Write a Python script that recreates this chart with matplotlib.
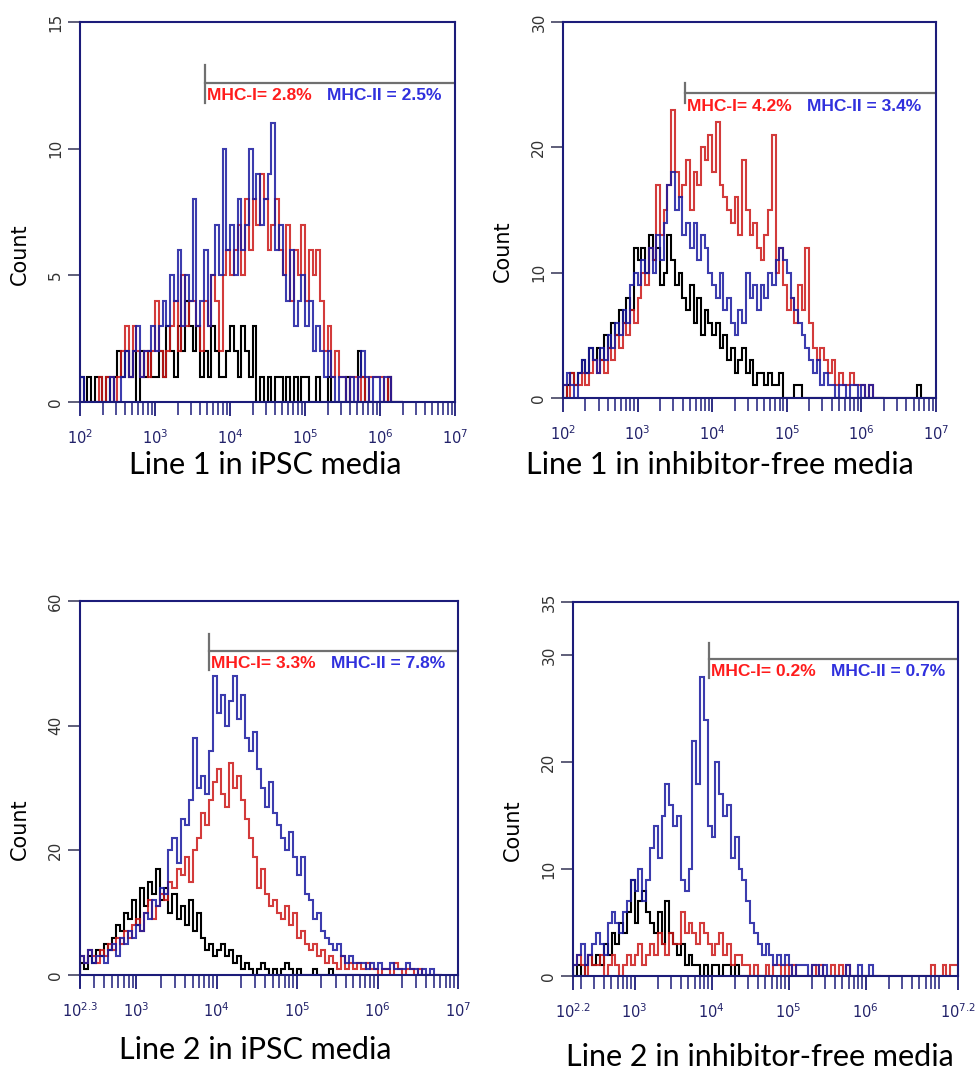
import numpy as np
import matplotlib.pyplot as plt
from matplotlib.ticker import FixedLocator, NullFormatter

BIN = 0.05  # channel width, decades

# ---- Line 1, iPSC media (log10 start 2.0) ----
p1_start = 2.0
p1_ctrl = [1, 0, 1, 0, 1, 1, 0, 1, 0, 1,
           2, 1, 2, 1, 2, 0, 2, 1, 2, 1,
           1, 2, 1, 3, 2, 1, 3, 2, 4, 3,
           2, 3, 1, 2, 1, 3, 2, 1, 1, 2,
           3, 2, 1, 3, 2, 1, 3, 0, 1, 0,
           1, 0, 1, 1, 0, 1, 0, 1, 0, 1,
           1, 0, 0, 1, 0, 0, 1, 0, 0, 0,
           0, 1, 0, 0, 2, 1, 0, 0, 0, 0,
           0, 0, 1, 0, 0, 0]
p1_mhc1 = [0, 0, 0, 0, 0, 1, 0, 1, 1, 0,
           1, 2, 3, 1, 3, 2, 1, 2, 1, 2,
           4, 2, 1, 2, 3, 4, 2, 5, 3, 4,
           4, 3, 2, 4, 3, 5, 4, 2, 5, 6,
           5, 6, 7, 5, 8, 6, 8, 7, 9, 8,
           6, 7, 8, 6, 5, 7, 4, 6, 5, 7,
           4, 6, 5, 6, 4, 2, 3, 1, 2, 1,
           1, 0, 1, 1, 0, 1, 0, 1, 1, 1,
           1, 0, 1, 0, 0, 0]
p1_mhc2 = [1, 0, 0, 0, 0, 0, 0, 0, 1, 0,
           0, 1, 2, 1, 2, 3, 1, 2, 2, 3,
           2, 3, 4, 3, 5, 4, 6, 3, 5, 4,
           8, 3, 4, 6, 3, 5, 7, 5, 10, 6,
           7, 5, 8, 6, 7, 10, 8, 9, 7, 8,
           9, 11, 6, 7, 5, 4, 6, 3, 4, 5,
           3, 4, 2, 3, 2, 1, 2, 1, 0, 1,
           1, 0, 1, 0, 1, 2, 1, 0, 1, 1,
           0, 1, 1, 0, 0, 0]

# ---- Line 1, inhibitor-free media (log10 start 2.0) ----
p2_start = 2.0
p2_ctrl = [0, 1, 2, 1, 2, 3, 2, 4, 3, 4,
           3, 5, 4, 6, 5, 7, 6, 8, 7, 12,
           11, 12, 10, 13, 11, 12, 9, 10, 13, 11,
           9, 10, 8, 7, 9, 6, 8, 5, 7, 6,
           5, 6, 4, 5, 3, 4, 2, 3, 4, 2,
           3, 1, 2, 2, 1, 2, 1, 1, 2, 0,
           0, 0, 1, 1, 0, 0, 0, 0, 0, 0,
           0, 0, 0, 0, 0, 0, 0, 0, 0, 0,
           0, 0, 0, 0, 0, 0, 0, 0, 0, 0,
           0, 0, 0, 0, 0, 1, 0, 0, 0, 0]
p2_mhc1 = [1, 0, 2, 1, 1, 2, 1, 2, 3, 2,
           3, 2, 4, 3, 5, 4, 6, 5, 7, 6,
           8, 10, 9, 12, 11, 17, 13, 15, 17, 23,
           18, 16, 17, 19, 15, 18, 17, 20, 19, 21,
           18, 22, 17, 16, 15, 14, 16, 13, 19, 15,
           13, 14, 12, 11, 13, 15, 21, 10, 12, 9,
           7, 8, 6, 9, 7, 12, 6, 4, 3, 4,
           3, 2, 3, 1, 2, 1, 1, 2, 1, 1,
           1, 0, 1, 0, 0, 0]
p2_mhc2 = [1, 2, 1, 0, 2, 3, 2, 4, 3, 2,
           4, 3, 5, 4, 6, 5, 7, 6, 9, 10,
           9, 11, 10, 12, 10, 13, 11, 14, 17, 18,
           15, 16, 13, 14, 12, 14, 11, 13, 12, 10,
           9, 8, 10, 7, 8, 6, 5, 7, 6, 10,
           8, 9, 7, 9, 8, 10, 9, 11, 12, 11,
           10, 8, 7, 6, 5, 4, 3, 2, 3, 1,
           2, 1, 1, 0, 1, 1, 0, 1, 1, 0,
           1, 0, 1, 0, 0, 0]

# ---- Line 2, iPSC media (log10 start 2.3) ----
p3_start = 2.3
p3_ctrl = [2, 1, 3, 2, 4, 3, 5, 4, 6, 8,
           7, 10, 9, 12, 8, 14, 11, 15, 13, 17,
           12, 14, 10, 13, 9, 11, 8, 12, 7, 10,
           6, 4, 5, 3, 4, 5, 3, 4, 2, 3,
           1, 2, 1, 0, 1, 2, 1, 0, 1, 0,
           1, 2, 1, 0, 1, 0, 0, 0, 1, 0,
           0, 0, 1, 0, 0, 0, 0, 0, 0, 0]
p3_mhc1 = [3, 2, 4, 3, 2, 4, 3, 5, 4, 6,
           5, 7, 6, 8, 9, 7, 10, 12, 9, 11,
           13, 12, 15, 14, 17, 16, 19, 15, 20, 22,
           26, 24, 28, 31, 33, 29, 27, 34, 30, 32,
           28, 25, 22, 19, 14, 17, 13, 11, 12, 10,
           9, 11, 8, 10, 6, 7, 5, 4, 5, 3,
           4, 2, 3, 2, 1, 3, 1, 2, 1, 2,
           1, 2, 1, 1, 0, 1, 1, 0, 2, 1,
           0, 1, 1, 0, 1, 0, 0, 0, 0, 0]
p3_mhc2 = [3, 2, 4, 2, 3, 3, 2, 4, 5, 3,
           6, 5, 7, 6, 8, 7, 10, 9, 12, 11,
           14, 13, 20, 22, 18, 25, 24, 28, 38, 30,
           32, 29, 36, 48, 42, 45, 40, 44, 48, 41,
           45, 38, 36, 39, 33, 30, 27, 31, 26, 24,
           22, 20, 23, 19, 16, 19, 13, 12, 9, 10,
           7, 6, 5, 4, 5, 3, 2, 3, 2, 2,
           2, 1, 2, 1, 2, 1, 1, 2, 1, 1,
           1, 2, 1, 1, 0, 1, 0, 1, 0, 0]

# ---- Line 2, inhibitor-free media (log10 start 2.2) ----
p4_start = 2.2
p4_ctrl = [0, 1, 0, 1, 2, 1, 2, 1, 3, 2,
           4, 3, 5, 4, 6, 9, 5, 7, 8, 6,
           5, 4, 6, 3, 7, 4, 3, 2, 3, 1,
           2, 1, 1, 0, 1, 0, 1, 1, 0, 1,
           1, 0, 1, 0, 0, 0, 0, 0, 0, 0]
p4_mhc1 = [1, 2, 1, 0, 2, 1, 1, 2, 0, 1,
           2, 1, 0, 1, 2, 1, 2, 3, 1, 2,
           3, 2, 4, 3, 2, 4, 3, 3, 6, 4,
           5, 4, 3, 5, 4, 3, 2, 3, 4, 2,
           3, 1, 2, 2, 1, 1, 0, 1, 0, 0,
           1, 0, 1, 1, 0, 1, 0, 1, 0, 0,
           0, 0, 1, 0, 1, 0, 0, 1, 0, 1,
           0, 1, 0, 0, 0, 0, 0, 0, 0, 0,
           0, 0, 0, 0, 0, 0, 0, 0, 0, 0,
           0, 0, 0, 1, 0, 0, 1, 0, 1, 1]
p4_mhc2 = [1, 2, 3, 1, 2, 3, 4, 3, 2, 5,
           6, 5, 4, 6, 7, 9, 8, 10, 7, 9,
           12, 14, 11, 15, 18, 16, 14, 15, 9, 8,
           10, 22, 18, 28, 24, 14, 13, 20, 17, 15,
           16, 11, 13, 10, 9, 7, 5, 4, 3, 2,
           3, 2, 1, 2, 1, 2, 1, 0, 1, 1,
           1, 0, 1, 1, 0, 1, 0, 0, 0, 0,
           0, 1, 0, 0, 1, 0, 0, 1, 0, 0]

titles = ["Line 1 in iPSC media", "Line 1 in inhibitor-free media",
          "Line 2 in iPSC media", "Line 2 in inhibitor-free media"]
starts = [p1_start, p2_start, p3_start, p4_start]
ctrl = [p1_ctrl, p2_ctrl, p3_ctrl, p4_ctrl]
mhc1 = [p1_mhc1, p2_mhc1, p3_mhc1, p4_mhc1]
mhc2 = [p1_mhc2, p2_mhc2, p3_mhc2, p4_mhc2]
ymax = [15, 30, 60, 35]
ystep = [5, 10, 20, 5]
xrange_exp = [(2, 7), (2, 7), (2.3, 7), (2.2, 7.2)]
xtick_exp = [[2, 3, 4, 5, 6, 7], [2, 3, 4, 5, 6, 7],
             [2.3, 3, 4, 5, 6, 7], [2.2, 3, 4, 5, 6, 7.2]]
# gate: log10 position, horizontal y, vertical y range
gate_x = [3.67, 3.635, 3.904, 3.966]
gate_y = [12.6, 24.3, 52.0, 29.7]
gate_lo = [11.8, 23.5, 48.9, 27.9]
gate_hi = [13.3, 25.1, 54.7, 31.2]
gate_end = [6.97, 6.97, 6.99, 7.18]
pct_mhc1 = ["2.8%", "4.2%", "3.3%", "0.2%"]
pct_mhc2 = ["2.5%", "3.4%", "7.8%", "0.7%"]

W, H = 979, 1072
boxes = [(80, 22, 455, 402), (563, 22, 936, 398),
         (80, 601, 458, 975), (573, 602, 958, 976)]
title_pos = [(265, 465), (720, 465), (255, 1050), (760, 1057)]

NAVY = '#1c1c7a'

fig = plt.figure(figsize=(W / 100, H / 100), dpi=100)

for i in range(4):
    x0, y0, x1, y1 = boxes[i]
    ax = fig.add_axes([x0 / W, 1 - y1 / H, (x1 - x0) / W, (y1 - y0) / H])
    ax.set_xscale('log')

    for counts, col, a in [(ctrl[i], '#000000', 1.0),
                           (mhc1[i], '#cc1818', 0.85),
                           (mhc2[i], '#1a1aa0', 0.85)]:
        edges = 10 ** (starts[i] + BIN * np.arange(len(counts) + 1))
        ax.stairs(counts, edges, color=col, lw=1.5, alpha=a, baseline=0)

    lo, hi = xrange_exp[i]
    ax.set_xlim(10 ** lo, 10 ** hi)
    ax.set_ylim(0, ymax[i])

    # x axis
    majors = [10 ** e for e in xtick_exp[i]]
    ax.xaxis.set_major_locator(FixedLocator(majors))
    ax.set_xticklabels([r'$10^{%g}$' % e for e in xtick_exp[i]],
                       fontsize=10.5, color='#22226a')
    minors = [m * 10 ** d for d in range(2, 8) for m in range(2, 10)
              if 10 ** lo < m * 10 ** d < 10 ** hi]
    ax.xaxis.set_minor_locator(FixedLocator(minors))
    ax.xaxis.set_minor_formatter(NullFormatter())
    ax.tick_params(axis='x', which='major', direction='out', length=10,
                   width=1.3, color=NAVY, pad=9)
    ax.tick_params(axis='x', which='minor', direction='out', length=9,
                   width=1.1, color=NAVY)

    # y axis
    if i == 3:
        yt = list(range(0, 36, 5))
        yl = ['0', '', '10', '', '20', '', '30', '35']
    else:
        yt = list(range(0, ymax[i] + 1, ystep[i]))
        yl = [str(v) for v in yt]
    ax.set_yticks(yt)
    ax.set_yticklabels(yl, rotation=90, va='center', fontsize=11,
                       color='#333333')
    ax.tick_params(axis='y', direction='out', length=9, width=1.1,
                   color='#333355', pad=3)
    if i == 3:
        for t, lab in zip(ax.yaxis.get_major_ticks(), yl):
            if lab == '':
                t.tick1line.set_visible(False)
    ax.set_ylabel('Count', fontsize=15)
    ax.yaxis.set_label_coords(-50 / (x1 - x0), 0.39)

    for s in ax.spines.values():
        s.set_color(NAVY)
        s.set_linewidth(1.5)

    # gate marker and percentages
    gx = 10 ** gate_x[i]
    ax.plot([gx, gx], [gate_lo[i], gate_hi[i]], color='#707070', lw=1.6)
    ax.plot([gx, 10 ** gate_end[i]], [gate_y[i], gate_y[i]],
            color='#707070', lw=1.6)
    t1 = ax.annotate('MHC-I= ' + pct_mhc1[i], xy=(gx, gate_y[i]),
                     xytext=(1.5, -4), textcoords='offset points',
                     va='top', ha='left', fontsize=12.5, fontweight='bold',
                     color='#ff1c1c', family='Liberation Sans')
    ax.annotate('MHC-II = ' + pct_mhc2[i], xy=(1, 0), xycoords=t1,
                xytext=(11, 0), textcoords='offset points',
                va='bottom', ha='left', fontsize=12.5, fontweight='bold',
                color='#3030dd', family='Liberation Sans')

    tx, ty = title_pos[i]
    fig.text(tx / W, 1 - ty / H, titles[i], ha='center', va='center',
             fontsize=22, family='Lato')

fig.savefig('out.png', dpi=100, facecolor='white')
